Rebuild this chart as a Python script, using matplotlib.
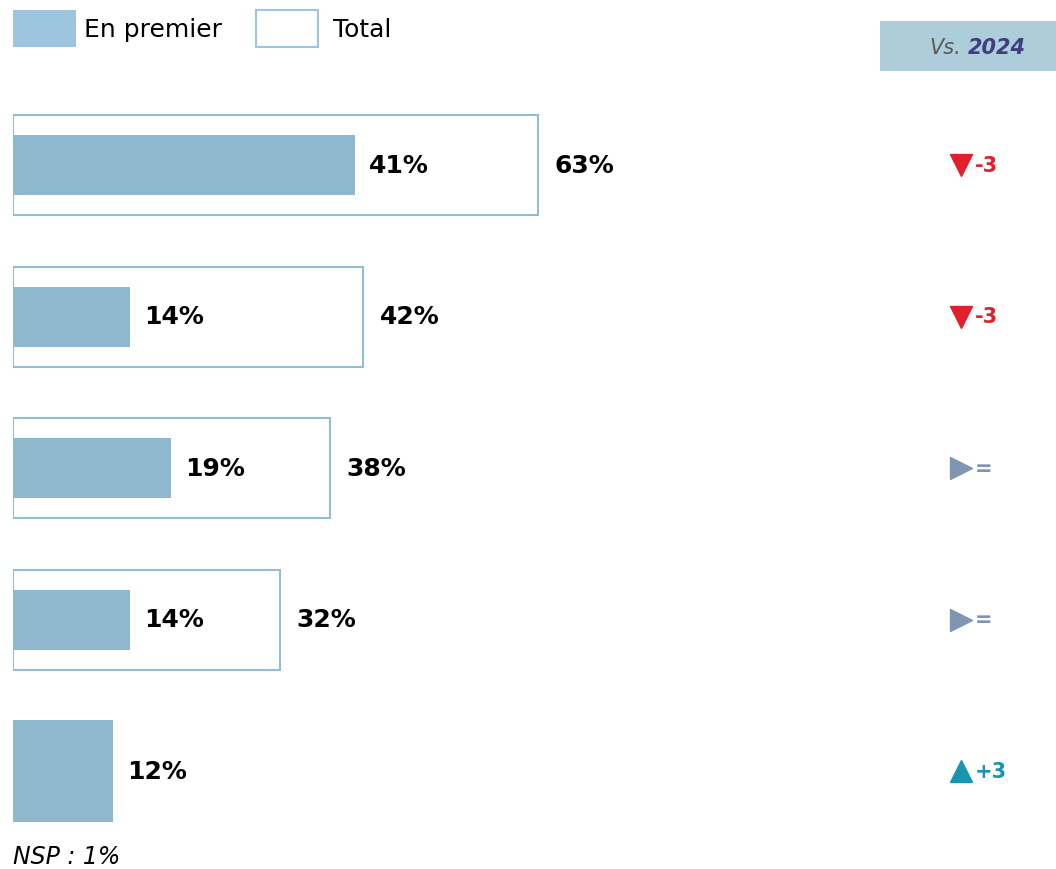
import numpy as np
import matplotlib
matplotlib.use("Agg")
import matplotlib.pyplot as plt
from matplotlib.patches import Rectangle

# values
premier = [41, 14, 19, 14, 12]
total = [63, 42, 38, 32, None]
delta_text = ["-3", "-3", "=", "=", "+3"]
delta_dir = ["down", "down", "flat", "flat", "up"]
nsp = "NSP : 1%"

fill_col = "#8FB8CE"
edge_col = "#94BDD4"
dir_style = {"down": ("v", "#E0202B"), "flat": (">", "#7F95B2"), "up": ("^", "#1A94B0")}

W, H = 1056, 870
fig = plt.figure(figsize=(W / 100, H / 100), dpi=100)
x0 = 13
px_per_pct = (538 - x0) / 63.0
row_px = 151.5
first_row = 166

ax = fig.add_axes([x0 / W, 0, 1 - x0 / W, 1])
ax.set_xlim(0, (W - x0) / px_per_pct)
ax.set_ylim((H - first_row) / row_px, -first_row / row_px)
ax.axis("off")

rows = np.arange(len(premier))
for i in rows:
    if total[i] is not None:
        ax.barh(i, total[i], height=100 / row_px, left=0, color="white",
                edgecolor=edge_col, linewidth=1.5)
        ax.barh(i, premier[i], height=60 / row_px, left=0, color=fill_col, linewidth=0)
        ax.text(total[i] + 2.0, i, f"{total[i]}%", ha="left", va="center",
                fontsize=18, fontweight="bold", color="black")
    else:
        ax.barh(i, premier[i], height=102 / row_px, left=0, color=fill_col, linewidth=0)
    ax.text(premier[i] + 1.7, i, f"{premier[i]}%", ha="left", va="center",
            fontsize=18, fontweight="bold", color="black")

    m, c = dir_style[delta_dir[i]]
    mx = (961 - x0) / px_per_pct
    ax.plot(mx, i, marker=m, color=c, markersize=16, linestyle="none")
    ax.text(mx + 1.7, i, delta_text[i], ha="left", va="center",
            fontsize=15, fontweight="bold", color=c)

# legend
fig.patches.append(Rectangle((13 / W, 1 - 48 / H), 63 / W, 37 / H,
                             transform=fig.transFigure, facecolor="#9DC6DE",
                             edgecolor="none"))
fig.text(84 / W, 1 - 30 / H, "En premier", fontsize=18, va="center", ha="left")
fig.patches.append(Rectangle((256 / W, 1 - 48 / H), 62 / W, 37 / H,
                             transform=fig.transFigure, facecolor="white",
                             edgecolor="#9DC6DE", linewidth=1.5))
fig.text(333 / W, 1 - 30 / H, "Total", fontsize=18, va="center", ha="left")

# Vs. 2024 header
fig.patches.append(Rectangle((880 / W, 1 - 72 / H), 176 / W, 50 / H,
                             transform=fig.transFigure, facecolor="#AECDDB",
                             edgecolor="none"))
fig.text(961 / W, 1 - 48 / H, "Vs.", fontsize=15, style="italic", color="#595959",
         ha="right", va="center")
fig.text(968 / W, 1 - 48 / H, "2024", fontsize=15, style="italic", fontweight="bold",
         color="#3F3F7F", ha="left", va="center")

fig.text(13 / W, 1 - 857 / H, nsp, fontsize=17, style="italic", ha="left", va="center")

fig.savefig("out.png", dpi=100)
